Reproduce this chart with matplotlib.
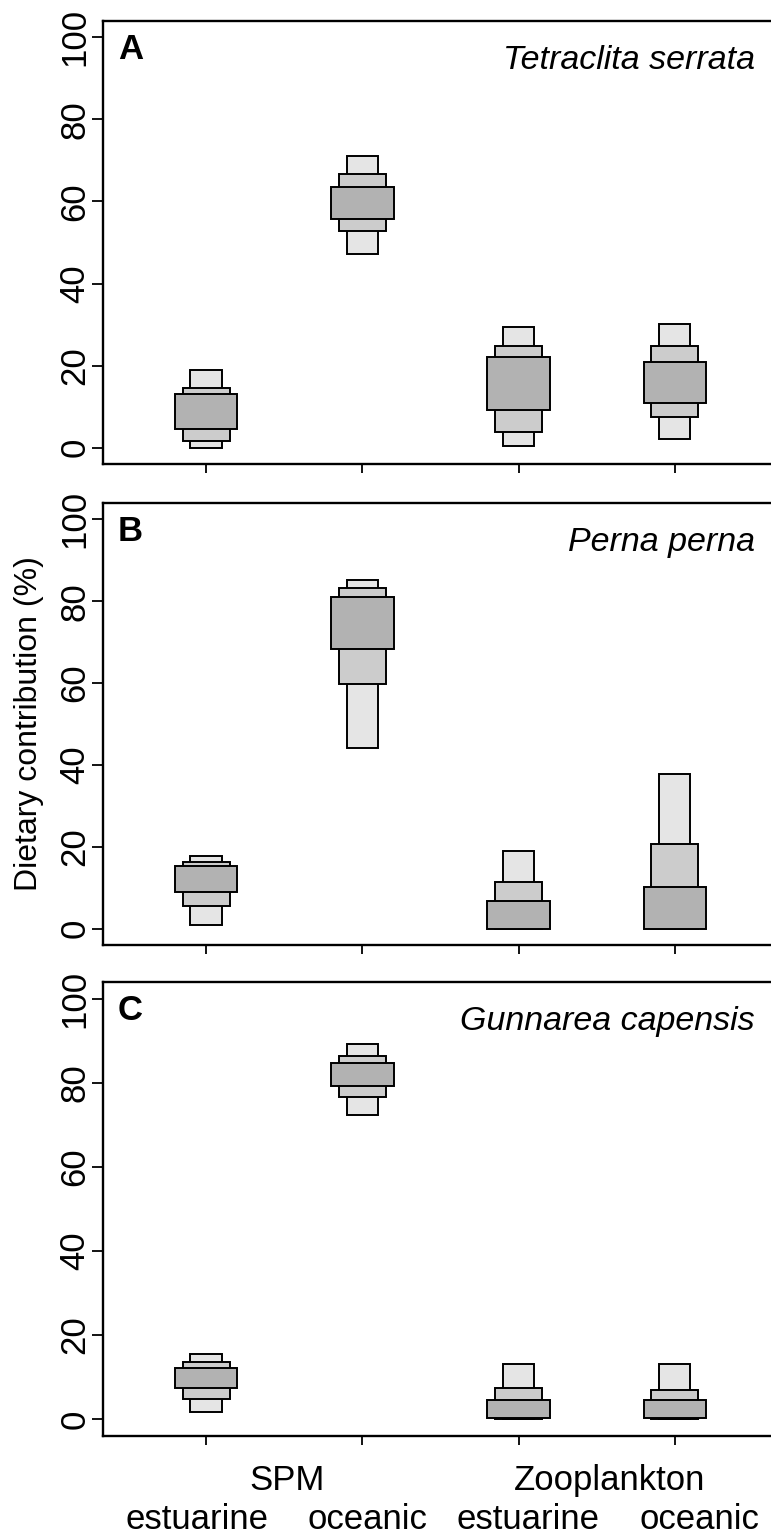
import matplotlib
matplotlib.use("Agg")
import matplotlib.pyplot as plt
import numpy as np

plt.rcParams['font.family'] = ['Liberation Sans', 'DejaVu Sans']

# Food sources (x order) and their axis labels
sources = ["SPM estuarine", "SPM oceanic", "Zooplankton estuarine", "Zooplankton oceanic"]
group_labels = ["SPM", "Zooplankton"]
origin_labels = ["estuarine", "oceanic", "estuarine", "oceanic"]
y_ticks = [0, 20, 40, 60, 80, 100]

# Credibility intervals (%) of each source's dietary contribution
tetraclita_lo95 = [0.0, 47.2, 0.3, 2.0]
tetraclita_hi95 = [18.8, 71.2, 29.3, 30.2]
tetraclita_lo75 = [1.6, 52.8, 3.7, 7.5]
tetraclita_hi75 = [14.6, 66.7, 24.7, 24.7]
tetraclita_lo50 = [4.6, 55.7, 9.1, 10.9]
tetraclita_hi50 = [13.0, 63.6, 22.2, 20.9]

perna_lo95 = [1.0, 44.2, 0.0, 0.0]
perna_hi95 = [17.8, 85.3, 19.0, 37.8]
perna_lo75 = [5.6, 59.7, 0.0, 0.0]
perna_hi75 = [16.4, 83.2, 11.5, 20.7]
perna_lo50 = [8.9, 68.4, 0.0, 0.0]
perna_hi50 = [15.2, 81.0, 6.8, 10.2]

gunnarea_lo95 = [1.6, 72.3, 0.0, 0.0]
gunnarea_hi95 = [15.5, 89.3, 13.1, 13.1]
gunnarea_lo75 = [4.8, 76.7, 0.1, 0.1]
gunnarea_hi75 = [13.5, 86.5, 7.4, 7.0]
gunnarea_lo50 = [7.4, 79.2, 0.4, 0.4]
gunnarea_hi50 = [12.2, 84.8, 4.5, 4.5]

panels = [
    ("A", "Tetraclita serrata",
     [(tetraclita_lo95, tetraclita_hi95), (tetraclita_lo75, tetraclita_hi75), (tetraclita_lo50, tetraclita_hi50)]),
    ("B", "Perna perna",
     [(perna_lo95, perna_hi95), (perna_lo75, perna_hi75), (perna_lo50, perna_hi50)]),
    ("C", "Gunnarea capensis",
     [(gunnarea_lo95, gunnarea_hi95), (gunnarea_lo75, gunnarea_hi75), (gunnarea_lo50, gunnarea_hi50)]),
]

# 95 %, 75 %, 50 % boxes: widening and darkening towards the centre
box_widths = [0.2, 0.3, 0.4]
box_colors = ["#e5e5e5", "#cccccc", "#b2b2b2"]

W, H = 771, 1535
fig = plt.figure(figsize=(W / 100, H / 100), dpi=100)

# panel frames in pixels: (top, bottom)
frames = [(21, 464), (503, 945), (982, 1436)]
left_px, width_px = 103, 675

x = np.arange(1, len(sources) + 1)
axes = []
for (letter, species, intervals), (top, bot) in zip(panels, frames):
    ax = fig.add_axes([left_px / W, 1 - bot / H, width_px / W, (bot - top) / H])
    axes.append(ax)
    for (lo, hi), w, c in zip(intervals, box_widths, box_colors):
        lo = np.array(lo)
        hi = np.array(hi)
        ax.bar(x, hi - lo, bottom=lo, width=w, color=c,
               edgecolor="black", linewidth=1.4, zorder=2)
    ax.set_xlim(0.34, 4.66)
    ax.set_ylim(-4, 104)
    ax.set_yticks(y_ticks)
    ax.set_yticklabels([str(t) for t in y_ticks])
    ax.set_xticks(x)
    ax.set_xticklabels([])
    ax.tick_params(axis="y", labelrotation=90, length=8, width=1.3,
                   labelsize=25, pad=0.5)
    ax.tick_params(axis="x", length=6.5, width=1.3)
    for lab in ax.get_yticklabels():
        lab.set_va("center")
    for s in ax.spines.values():
        s.set_linewidth(1.7)
    ax.spines["right"].set_visible(False)

    ax.annotate(letter, xy=(0, 1), xycoords="axes fraction",
                xytext=(15, -38), textcoords="offset pixels",
                fontsize=25, fontweight="bold", ha="left", va="baseline")
    ax.annotate(species, xy=(0, 1), xycoords="axes fraction",
                xytext=(652, -48), textcoords="offset pixels",
                fontsize=24.5, fontstyle="italic", ha="right", va="baseline")

fig.text(29 / W, 1 - 724 / H, "Dietary contribution (%)", rotation=90,
         ha="center", va="center", fontsize=23)

# Source labels beneath the bottom panel
axC = axes[-1]
group_pos = [1.52, 3.58]
origin_pos = [0.94, 2.03, 3.06, 4.16]
for gx, g in zip(group_pos, group_labels):
    axC.annotate(g, xy=(gx, 0), xycoords=("data", "figure pixels"),
                 xytext=(0, H - 1490), textcoords="offset pixels",
                 ha="center", va="baseline", fontsize=25)
for ox, o in zip(origin_pos, origin_labels):
    axC.annotate(o, xy=(ox, 0), xycoords=("data", "figure pixels"),
                 xytext=(0, H - 1529), textcoords="offset pixels",
                 ha="center", va="baseline", fontsize=25)

fig.savefig("out.png", dpi=100)
